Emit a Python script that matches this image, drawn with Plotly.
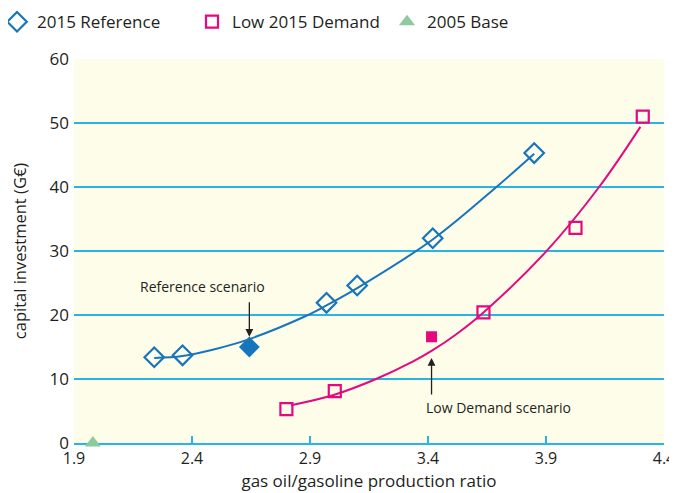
import plotly.graph_objects as go

# Data
ref_x = [2.24, 2.36, 2.97, 3.10, 3.42, 3.85]
ref_y = [13.4, 13.7, 21.9, 24.6, 32.0, 45.3]
ref_scn_x = [2.643]
ref_scn_y = [15.0]
ref_trend_x = [2.24, 2.36, 2.50, 2.64, 2.88, 2.97, 3.10, 3.42, 3.69, 3.85]
ref_trend_y = [13.3, 13.6, 14.7, 16.2, 19.8, 21.5, 24.2, 31.8, 40.0, 45.2]

low_x = [2.80, 3.005, 3.635, 4.025, 4.31]
low_y = [5.3, 8.1, 20.4, 33.6, 51.0]
low_scn_x = [3.415]
low_scn_y = [16.6]
low_trend_x = [2.82, 3.00, 3.18, 3.335, 3.42, 3.52, 3.635, 3.90, 4.125, 4.30]
low_trend_y = [5.9, 7.5, 10.0, 12.7, 14.5, 17.0, 20.4, 29.9, 40.0, 49.4]

base_x = [1.98]
base_y = [0.0]

x_ticks = [1.9, 2.4, 2.9, 3.4, 3.9, 4.4]
y_ticks = [0, 10, 20, 30, 40, 50, 60]

BLUE = "#1775BC"
PINK = "#E5097F"
GREEN = "#8DCB9F"
CYAN = "#27B4E6"
INK = "#231F20"
FONT = "Open Sans"

fig = go.Figure()
fig.add_trace(go.Scatter(x=ref_trend_x, y=ref_trend_y, mode="lines", line=dict(color=BLUE, width=2, shape="spline"),
                         showlegend=False, hoverinfo="skip"))
fig.add_trace(go.Scatter(x=low_trend_x, y=low_trend_y, mode="lines", line=dict(color=PINK, width=2, shape="spline"),
                         showlegend=False, hoverinfo="skip"))
fig.add_trace(go.Scatter(x=ref_x, y=ref_y, mode="markers", name="2015 Reference",
                         marker=dict(symbol="diamond-open", size=15, color=BLUE, line=dict(width=2.2, color=BLUE))))
fig.add_trace(go.Scatter(x=low_x, y=low_y, mode="markers", name="Low 2015 Demand",
                         marker=dict(symbol="square-open", size=12, color=PINK, line=dict(width=2.2, color=PINK))))
fig.add_trace(go.Scatter(x=base_x, y=base_y, mode="markers", name="2005 Base", cliponaxis=False,
                         marker=dict(symbol="triangle-up", size=14, color=GREEN)))
fig.add_trace(go.Scatter(x=ref_scn_x, y=ref_scn_y, mode="markers", showlegend=False,
                         marker=dict(symbol="diamond", size=16, color=BLUE)))
fig.add_trace(go.Scatter(x=low_scn_x, y=low_scn_y, mode="markers", showlegend=False,
                         marker=dict(symbol="square", size=11, color=PINK)))

fig.add_annotation(x=2.643, y=16.6, ax=0, ay=-36, text="", showarrow=True, arrowhead=2, arrowsize=1.2,
                   arrowwidth=1.3, arrowcolor=INK)
fig.add_annotation(x=2.443, y=24.5, text="Reference scenario", showarrow=False,
                   font=dict(family=FONT, size=14, color=INK))
fig.add_annotation(x=3.7, y=5.6, text="Low Demand scenario", showarrow=False,
                   font=dict(family=FONT, size=14, color=INK))
fig.add_annotation(x=3.415, y=13.3, ax=0, ay=38, text="", showarrow=True, arrowhead=2, arrowsize=1.2,
                   arrowwidth=1.3, arrowcolor=INK)

# the page body adds an 8px offset, so the figure is sized to fill the rest of the window
fig.update_layout(
    width=669, height=485,
    margin=dict(l=66, r=13, t=51, b=50, autoexpand=False),
    paper_bgcolor="white",
    plot_bgcolor="#FEFDEA",
    font=dict(family=FONT, size=15, color=INK),
    legend=dict(orientation="h", x=-0.1305, y=1.096, xanchor="left", yanchor="middle",
                font=dict(family=FONT, size=17, color=INK), entrywidth=150, itemwidth=30),
    xaxis=dict(range=[1.9, 4.4], tickvals=x_ticks, ticktext=[f"{v:.1f}" for v in x_ticks],
               showgrid=False, zeroline=False, showline=True, linecolor=CYAN, linewidth=2,
               ticks="inside", ticklen=7, tickwidth=2, tickcolor=CYAN, automargin=False,
               layer="below traces",
               title=dict(text="gas oil/gasoline production ratio", font=dict(size=17), standoff=4),
               tickfont=dict(size=16)),
    yaxis=dict(range=[0, 60], tickvals=y_ticks, showgrid=True, gridcolor=CYAN, gridwidth=1.6,
               zeroline=False, showline=False, ticks="", tickfont=dict(size=17), automargin=False,
               ticklabelstandoff=4, layer="below traces",
               title=dict(text="capital investment (G€)", font=dict(size=16.5), standoff=22)),
)

fig.write_html("out.html")
